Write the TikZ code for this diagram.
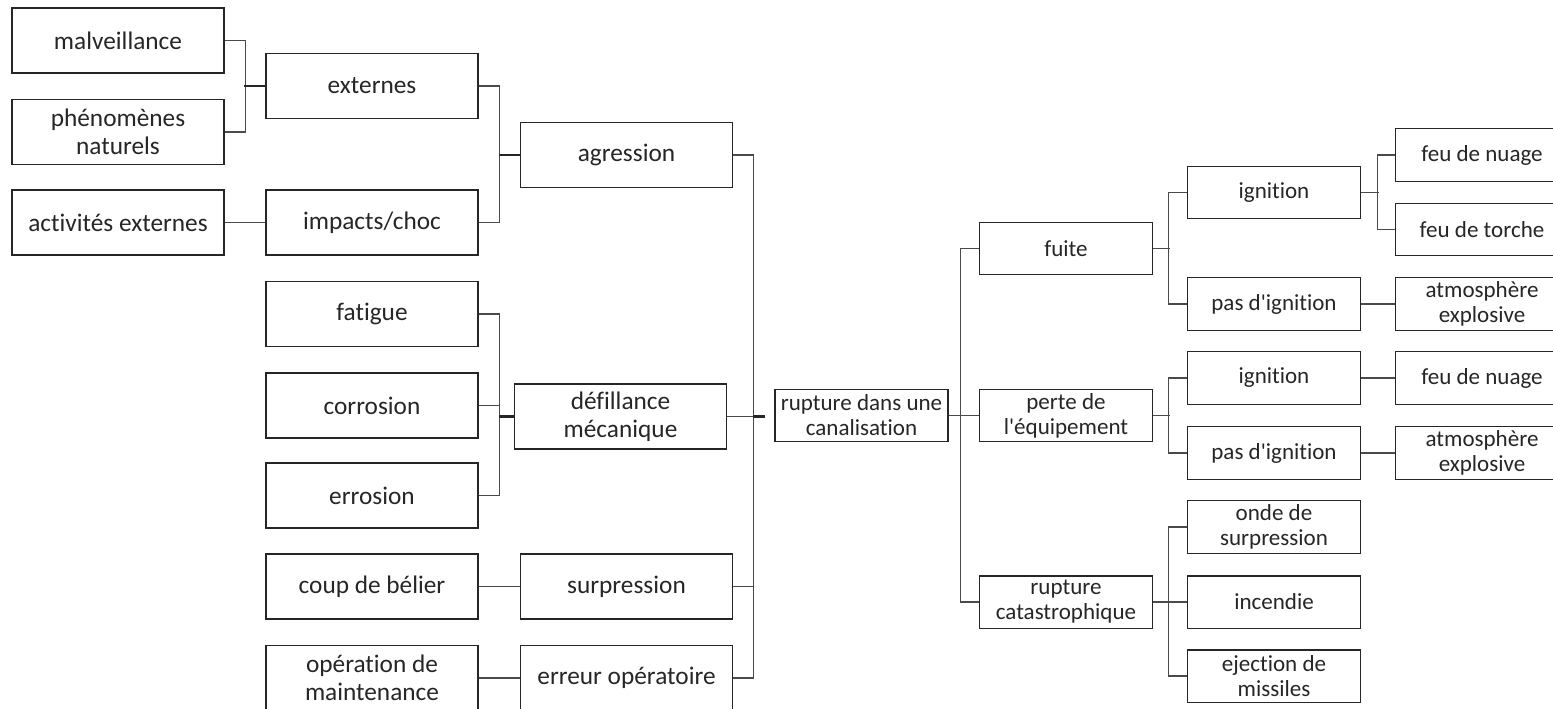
\documentclass[tikz,border=0pt]{standalone}
\usepackage{fontspec}
\setmainfont{Carlito}[Ligatures={TeXOff,NoCommon}]
\definecolor{boxline}{HTML}{262626}
\definecolor{linkline}{HTML}{4A4A4A}
\definecolor{txt}{HTML}{262626}
\tikzset{
  box/.style={draw=boxline, line width=0.85pt, text=txt, minimum width=4.24cm, minimum height=1.3cm, align=center, inner sep=0pt, font=\fontsize{14.4}{15.9}\selectfont},
  sbox/.style={box, minimum width=3.46cm, minimum height=1.05cm, font=\fontsize{13.1}{14.2}\selectfont},
  link/.style={draw=linkline, line width=0.65pt},
  stub/.style={draw=boxline, line width=1.2pt}
}
\begin{document}
\begin{tikzpicture}
\useasboundingbox (0,0) rectangle (31.06,-14.18);
\clip (0,0) rectangle (31.06,-14.18);
%\draw[step=1cm,gray,very thin] (0,0) grid (31,-14);
% causes
\node[box] (malv) at (2.36,-0.81) {malveillance};
\node[box] (phen) at (2.36,-2.64) {phénomènes\\naturels};
\node[box] (activ) at (2.36,-4.45) {activités externes};
\node[box] (ext) at (7.44,-1.72) {externes};
\node[box] (impacts) at (7.44,-4.45) {impacts/choc};
\node[box] (fatigue) at (7.44,-6.28) {fatigue};
\node[box] (corrosion) at (7.44,-8.11) {corrosion};
\node[box] (errosion) at (7.44,-9.91) {errosion};
\node[box] (coup) at (7.44,-11.73) {coup de bélier};
\node[box] (oper) at (7.44,-13.56) {opération de\\maintenance};
\node[box] (agr) at (12.53,-3.10) {agression};
\node[box] (def) at (12.41,-8.33) {défillance\\mécanique};
\node[box] (surp) at (12.53,-11.73) {surpression};
\node[box] (err) at (12.53,-13.56) {erreur opératoire};
% event
\node[sbox] (rupt) at (17.23,-8.31) {rupture dans une\\canalisation};
% consequences
\node[sbox] (fuite) at (21.32,-4.97) {fuite};
\node[sbox] (perte) at (21.32,-8.31) {perte de\\l'équipement};
\node[sbox] (catast) at (21.32,-12.04) {rupture\\catastrophique};
\node[sbox] (ign1) at (25.48,-3.85) {ignition};
\node[sbox] (pas1) at (25.48,-6.08) {pas d'ignition};
\node[sbox] (ign2) at (25.48,-7.56) {ignition};
\node[sbox] (pas2) at (25.48,-9.06) {pas d'ignition};
\node[sbox] (onde) at (25.48,-10.54) {onde de\\surpression};
\node[sbox] (incendie) at (25.48,-12.04) {incendie};
\node[sbox] (eject) at (25.48,-13.52) {ejection de\\missiles};
\node[sbox] (nuage1) at (29.64,-3.10) {feu de nuage};
\node[sbox] (torche) at (29.64,-4.59) {feu de torche};
\node[sbox] (atmo1) at (29.64,-6.08) {atmosphère\\explosive};
\node[sbox] (nuage2) at (29.64,-7.56) {feu de nuage};
\node[sbox] (atmo2) at (29.64,-9.06) {atmosphère\\explosive};
% left links
\draw[link] (malv.east) -- ++(0.42,0) |- (phen.east);
\draw[stub] (ext.west) -- ++(-0.42,0);
\draw[link] (activ) -- (impacts);
\draw[link] (ext.east) -- ++(0.42,0) |- (impacts.east);
\draw[stub] (agr.west) -- ++(-0.42,0);
\draw[link] (fatigue.east) -- ++(0.42,0) |- (errosion.east);
\draw[link] (corrosion.east) -- ++(0.42,0);
\draw[stub] (def.west) -- ++(-0.30,0);
\draw[link] (coup) -- (surp);
\draw[link] (oper) -- (err);
\draw[link] (agr.east) -- ++(0.40,0) |- (err.east);
\draw[link] (surp.east) -- ++(0.42,0);
\draw[link] (def.east) -- ++(0.52,0) coordinate (mj);
\draw[stub] (mj) -- ++(0.24,0);
% right links
\draw[link] (rupt) -- (perte);
\draw[link] (fuite.west) -- ++(-0.36,0) |- (catast.west);
\draw[link] (fuite.east) -- ++(0.34,0);
\draw[link] (ign1.west) -- ++(-0.36,0) |- (pas1.west);
\draw[link] (ign1.east) -- ++(0.36,0);
\draw[link] (nuage1.west) -- ++(-0.34,0) |- (torche.west);
\draw[link] (pas1) -- (atmo1);
\draw[link] (perte.east) -- ++(0.34,0);
\draw[link] (ign2.west) -- ++(-0.36,0) |- (pas2.west);
\draw[link] (ign2) -- (nuage2);
\draw[link] (pas2) -- (atmo2);
\draw[link] (onde.west) -- ++(-0.36,0) |- (eject.west);
\draw[link] (catast) -- (incendie);
\end{tikzpicture}
\end{document}
